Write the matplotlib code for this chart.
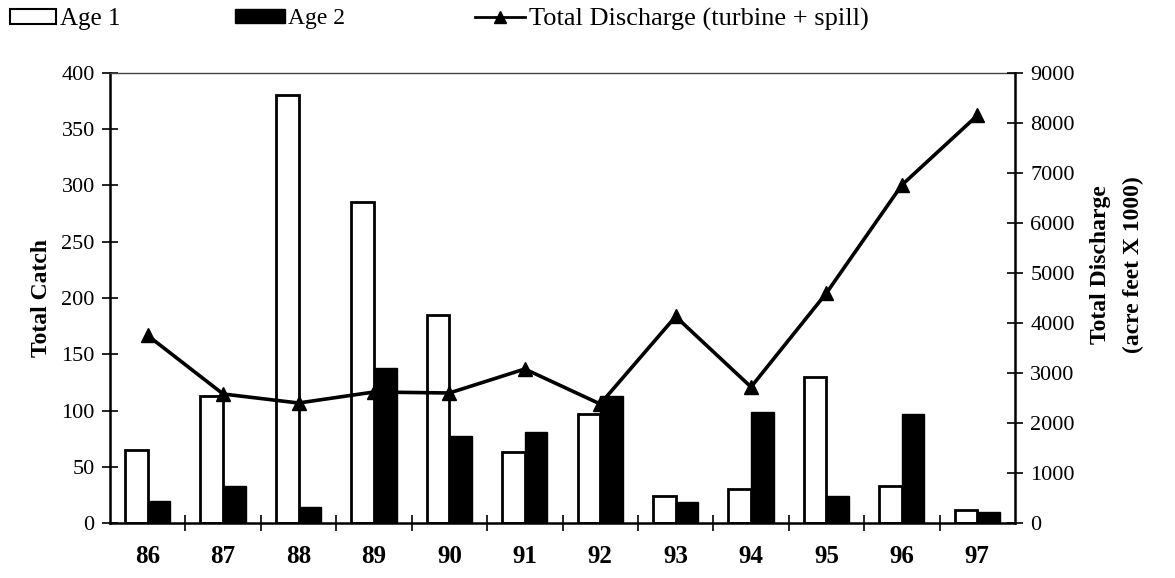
import matplotlib
matplotlib.use("Agg")
import matplotlib.pyplot as plt
import numpy as np
from matplotlib.patches import Patch
from matplotlib.lines import Line2D

years = ["86", "87", "88", "89", "90", "91", "92", "93", "94", "95", "96", "97"]
age1 = [65, 113, 380, 285, 185, 63, 97, 24, 30, 130, 33, 12]
age2 = [20, 33, 14, 138, 77, 81, 113, 19, 99, 24, 97, 10]
discharge = [3750, 2580, 2400, 2620, 2600, 3080, 2380, 4130, 2720, 4600, 6760, 8150]

plt.rcParams['font.family'] = ['Liberation Serif', 'DejaVu Serif']

fig = plt.figure(figsize=(11.75, 5.78), dpi=100)
ax = fig.add_axes([110/1175, 1-523/578, (1015-110)/1175, (523-73)/578])
x = np.arange(len(years))
w = 0.3
ax.bar(x - w/2, age1, w, facecolor='white', edgecolor='black', linewidth=2)
ax.bar(x + w/2, age2, w, facecolor='black', edgecolor='black', linewidth=1)
ax.set_xlim(-0.5, len(years) - 0.5)
ax.set_ylim(0, 400)
ax.set_yticks(range(0, 401, 50))
ax.set_xticks(x)
ax.set_xticklabels(years, fontsize=18, fontweight='bold')
ax.set_xticks(x[:-1] + 0.5, minor=True)
ax.tick_params(axis='x', which='major', length=0, pad=16)
ax.tick_params(axis='x', which='minor', length=12, direction='inout', width=1.2)
ax.tick_params(axis='y', length=12, direction='inout', labelsize=16, pad=5, width=1.2)
for s in ['left', 'bottom']:
    ax.spines[s].set_linewidth(1.8)
ax.spines['top'].set_linewidth(1.0)
ax.spines['top'].set_color('#444444')
ax.spines['right'].set_visible(False)
ax.set_ylabel("Total Catch", fontsize=17, fontweight='bold')
ax.yaxis.set_label_coords(-0.064, 0.5)

ax2 = ax.twinx()
ax2.plot(x, discharge, color='black', linewidth=2.6, marker='^', markersize=10)
ax2.set_ylim(0, 9000)
ax2.set_yticks(range(0, 9001, 1000))
ax2.tick_params(axis='y', length=12, direction='inout', labelsize=16, pad=5, width=1.2)
ax2.spines['right'].set_linewidth(1.8)
for s in ['left', 'top', 'bottom']:
    ax2.spines[s].set_visible(False)
ax2.set_ylabel("Total Discharge\n(acre feet X 1000)", fontsize=17, fontweight='bold',
               linespacing=1.7)
ax2.yaxis.set_label_coords(1.083, 0.575)

def leg(handle, label, xpx, hl, fs):
    fig.legend([handle], [label], loc='upper left',
               bbox_to_anchor=(xpx/1175, 1-8/578), frameon=False, fontsize=fs,
               borderpad=0, borderaxespad=0, handlelength=hl, handletextpad=0.15,
               handleheight=0.55)

leg(Patch(facecolor='white', edgecolor='black', linewidth=1.5), "Age 1", 10, 1.85, 18)
leg(Patch(facecolor='black', edgecolor='black'), "Age 2", 235, 2.1, 17)
leg(Line2D([], [], color='black', linewidth=2, marker='^', markersize=9), "Total Discharge (turbine + spill)", 475, 1.9, 19)

fig.savefig("out.png", dpi=100)
